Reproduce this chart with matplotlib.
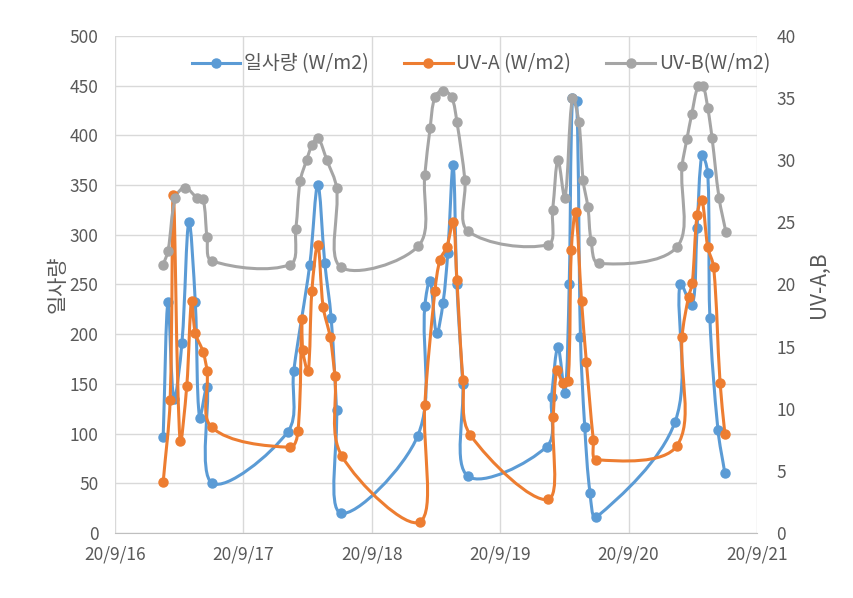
import numpy as np
import matplotlib.pyplot as plt
from matplotlib.path import Path
from matplotlib.patches import PathPatch
from matplotlib.lines import Line2D

plt.rcParams['font.family'] = ['Noto Sans CJK KR', 'DejaVu Sans']

# hours counted from 20/9/16 00:00
sun_h = [9.0, 9.9, 11.0, 12.5, 13.8, 15.0, 15.8, 17.2, 18.2,
         32.3, 33.4, 36.4, 37.9, 39.2, 40.4, 41.4, 42.2,
         56.6, 57.9, 58.9, 60.1, 61.3, 62.2, 63.2, 63.9, 65.0, 66.0,
         80.7, 81.6, 82.8, 84.1, 84.9, 85.5, 86.3, 87.0, 87.8, 88.8, 90.0,
         104.7, 105.6, 107.9, 108.8, 109.7, 110.8, 111.2, 112.7, 114.0]
sun_v = [97, 232, 135, 191, 313, 232, 116, 147, 50,
         102, 163, 270, 350, 272, 216, 124, 20,
         98, 228, 254, 201, 231, 282, 370, 250, 150, 57,
         87, 137, 187, 141, 251, 438, 435, 197, 107, 40, 16,
         112, 251, 229, 307, 380, 362, 216, 104, 60]

uva_h = [9.0, 10.3, 10.9, 12.15, 13.4, 14.3, 15.0, 16.45, 17.2, 18.1,
         32.7, 34.2, 34.9, 35.1, 36.1, 36.8, 37.9, 38.9, 40.2, 41.1, 42.4,
         57.0, 57.9, 59.8, 60.75, 62.0, 63.2, 63.9, 65.05, 66.4,
         80.9, 81.9, 82.6, 83.7, 84.7, 85.3, 86.1, 87.2, 88.1, 89.4, 90.0,
         105.0, 106.0, 107.2, 107.9, 108.8, 109.7, 110.8, 111.9, 113.1, 114.0]
uva_v = [4.1, 10.7, 27.2, 7.4, 11.8, 18.7, 16.1, 14.6, 13.0, 8.5,
         6.9, 8.2, 17.2, 14.7, 13.0, 19.5, 23.2, 18.2, 15.8, 12.6, 6.2,
         0.9, 10.3, 19.5, 22.0, 23.0, 25.0, 20.4, 12.3, 7.9,
         2.7, 9.3, 13.1, 12.1, 12.2, 22.8, 25.8, 18.7, 13.8, 7.5, 5.9,
         7.0, 15.8, 19.0, 20.1, 25.6, 26.8, 23.0, 21.4, 12.1, 8.0]

uvb_h = [9.0, 9.9, 11.3, 13.1, 15.3, 16.45, 17.2, 18.1,
         32.7, 33.8, 34.6, 35.8, 36.8, 37.9, 39.6, 41.4, 42.2,
         56.7, 57.9, 58.9, 59.8, 61.3, 62.9, 63.9, 65.4, 66.0,
         80.9, 81.8, 82.8, 84.1, 85.5, 86.7, 87.5, 88.4, 89.0, 90.4,
         105.0, 106.0, 106.9, 107.8, 109.0, 109.9, 110.8, 111.6, 112.9, 114.2]
uvb_v = [21.6, 22.7, 27.0, 27.8, 27.0, 26.9, 23.8, 21.9,
         21.6, 24.5, 28.3, 30.0, 31.2, 31.8, 30.0, 27.8, 21.4,
         23.1, 28.8, 32.6, 35.1, 35.6, 35.1, 33.1, 28.4, 24.3,
         23.2, 26.0, 30.0, 27.0, 35.0, 33.1, 28.4, 26.2, 23.5, 21.7,
         23.0, 29.5, 31.7, 33.7, 36.0, 36.0, 34.2, 31.8, 27.0, 24.2]

tick_h = [0, 24, 48, 72, 96, 120]
tick_lbl = ['20/9/16', '20/9/17', '20/9/18', '20/9/19', '20/9/20', '20/9/21']
labels = ['일사량 (W/m2)', 'UV-A (W/m2)', 'UV-B(W/m2)']
colors = ['#5B9BD5', '#ED7D31', '#A5A5A5']
txt = '#595959'


def smooth_path(ax, x, y, t=0.35):
    # excel-like smoothed line, control points worked out in pixel space
    p = ax.transData.transform(np.column_stack([x, y]))
    n = len(p)
    verts = [p[0]]
    codes = [Path.MOVETO]
    for i in range(n - 1):
        a = p[i - 1] if i > 0 else p[i]
        b, c = p[i], p[i + 1]
        d = p[i + 2] if i + 2 < n else p[i + 1]
        d_ab, d_bc, d_cd = np.hypot(*(b - a)), np.hypot(*(c - b)), np.hypot(*(d - c))
        f1 = t * d_bc / (d_ab + d_bc) if d_ab + d_bc > 0 else 0
        f2 = t * d_bc / (d_bc + d_cd) if d_bc + d_cd > 0 else 0
        verts += [b + f1 * (c - a), c - f2 * (d - b), c]
        codes += [Path.CURVE4] * 3
    return Path(ax.transData.inverted().transform(np.array(verts)), codes)


def draw(ax, x, y, c):
    ax.add_patch(PathPatch(smooth_path(ax, x, y), fill=False, ec=c, lw=2.2,
                           capstyle='round', joinstyle='round'))
    ax.plot(x, y, 'o', color=c, ms=6.5, ls='none')


fig = plt.figure(figsize=(8.54, 5.98), dpi=100)
ax = fig.add_axes([0.1347, 0.1087, 0.7517, 0.8311])
ax2 = ax.twinx()

ax.set_xlim(0, 120)
ax.set_ylim(0, 500)
ax2.set_ylim(0, 40)

draw(ax, sun_h, sun_v, colors[0])
draw(ax2, uva_h, uva_v, colors[1])
draw(ax2, uvb_h, uvb_v, colors[2])

ax.set_xticks(tick_h)
ax.set_xticklabels(tick_lbl)
ax.set_yticks(np.arange(0, 501, 50))
ax2.set_yticks(np.arange(0, 41, 5))
ax.grid(True, color='#D9D9D9', lw=1)
ax.set_axisbelow(True)

for a in (ax, ax2):
    for s in a.spines.values():
        s.set_visible(False)
    a.tick_params(length=0, labelsize=12.5, colors=txt)
ax.spines['bottom'].set_visible(True)
ax.spines['bottom'].set_color('#BFBFBF')
ax.tick_params(axis='y', pad=12)
ax.tick_params(axis='x', pad=9)
ax2.tick_params(axis='y', pad=14)

ax.set_ylabel('일사량', fontsize=15, color=txt)
ax.yaxis.set_label_coords(-0.072, 0.5)
ax2.set_ylabel('UV-A,B', fontsize=15, color=txt, rotation=90)
ax2.yaxis.set_label_coords(1.079, 0.5)

handles = [Line2D([0], [0], color=c, lw=2.2, marker='o', ms=6.5) for c in colors]
ax2.legend(handles, labels, loc='upper center', bbox_to_anchor=(0.57, 1.0),
           ncol=3, frameon=False, fontsize=14, labelcolor=txt,
           handlelength=2.5, columnspacing=1.8, handletextpad=0.2)

fig.savefig('out.png', dpi=100)
